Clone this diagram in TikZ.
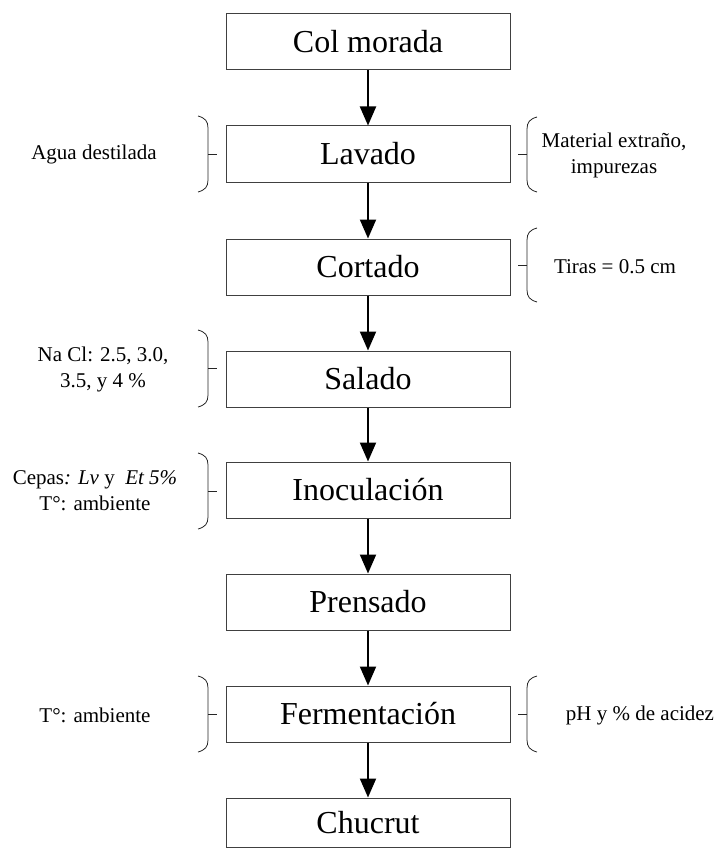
\documentclass[tikz,border=0pt]{standalone}
\usepackage{fontspec}
\setmainfont{Liberation Serif}
\usetikzlibrary{arrows.meta}
\begin{document}
\begin{tikzpicture}[x=1pt,y=-1pt,
  stepbox/.style={draw=black!75, line width=1pt, minimum width=284pt, minimum height=56pt, inner sep=0pt, font=\fontsize{32}{36}\selectfont},
  flow/.style={line width=2pt, -{Triangle[length=19pt,width=16pt]}},
  side/.style={align=center, font=\fontsize{21}{26}\selectfont, inner sep=0pt},
  brace/.style={line width=0.8pt, black!85}
]
\useasboundingbox (0,0) rectangle (718,848);
\node[stepbox] (b1) at (368,42) {Col morada};
\node[stepbox] (b2) at (368,154) {Lavado};
\node[stepbox] (b3) at (368,267) {Cortado};
\node[stepbox] (b4) at (368,379) {Salado};
\node[stepbox] (b5) at (368,490) {Inoculación};
\node[stepbox] (b6) at (368,602) {Prensado};
\node[stepbox] (b7) at (368,714) {Fermentación};
\node[stepbox, minimum height=49pt] (b8) at (368,822.5) {Chucrut};
\foreach \a/\b in {b1/b2,b2/b3,b3/b4,b4/b5,b5/b6,b6/b7,b7/b8}
  \draw[flow] (\a.south) -- (\b.north);

% left texts
\node[side] (t2) at (94,154) {Agua destilada};
\node[side] (t4) at (103,369) {Na Cl: 2.5, 3.0,\\3.5, y 4 \%};
\node[side] (t5) at (95,491) {Cepas\textit{: Lv} y\ \ \textit{Et 5\%}\\T°: ambiente};
\node[side] (t7) at (95,715) {T°: ambiente};
% right texts
\node[side] (r2) at (614,155) {Material extraño,\\impurezas};
\node[side] (r3) at (615,267) {Tiras = 0.5 cm};
\node[side] (r7) at (640,715) {pH y \% de acidez};

% left braces: (x0, top, bottom)
\foreach \t/\bt in {116/192, 330/407, 453/529, 676/752}{
  \draw[brace] (198,\t) .. controls (205,\t+2) and (208,\t+5) .. (208,\t+12)
     -- (208,\bt-12) .. controls (208,\bt-5) and (205,\bt-2) .. (198,\bt);
  \draw[brace] (208,{(\t+\bt)/2}) -- (217,{(\t+\bt)/2});
}
% right braces
\foreach \t/\bt in {117/192, 228/302, 676/752}{
  \draw[brace] (537,\t) .. controls (530,\t+2) and (527,\t+5) .. (527,\t+12)
     -- (527,\bt-12) .. controls (527,\bt-5) and (530,\bt-2) .. (537,\bt);
  \draw[brace] (527,{(\t+\bt)/2}) -- (518,{(\t+\bt)/2});
}
\end{tikzpicture}
\end{document}
